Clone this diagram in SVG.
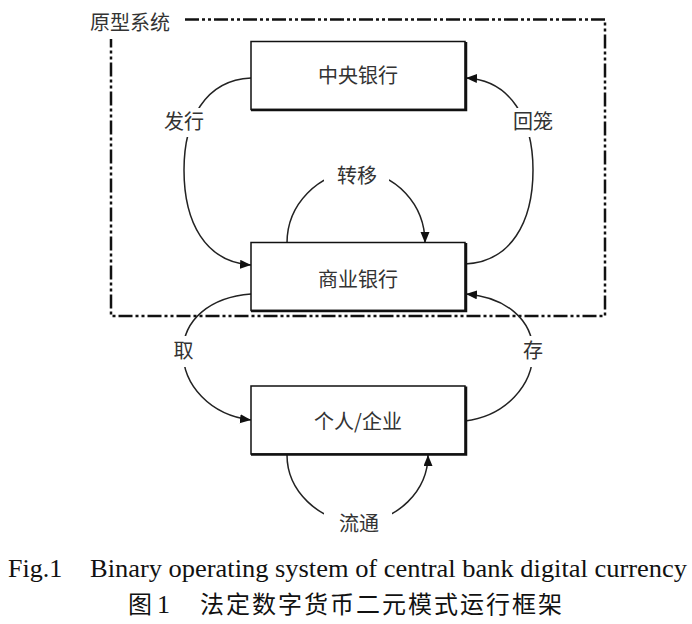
<svg xmlns="http://www.w3.org/2000/svg" width="692" height="624" viewBox="0 0 692 624">
<style>
.box{fill:#fff;stroke:#111;stroke-width:1.5}
.sh{fill:none;stroke:#111;stroke-width:2.5}
.lbl{font-family:"Noto Sans CJK SC","Noto Sans",sans-serif;font-size:20px;fill:#333;text-anchor:middle}
.edge{fill:none;stroke:#222;stroke-width:1.5;marker-end:url(#ah)}
.gap{fill:#fff}
.frame{fill:none;stroke:#111;stroke-width:2.5;stroke-dasharray:14 3 3 3 3 3}
.en{font-family:"Liberation Serif","Times New Roman",serif;font-size:26px;fill:#111}
.zh{font-family:"Noto Sans CJK SC",sans-serif;font-size:24px;fill:#111}
</style>
<defs>
<marker id="ah" markerUnits="userSpaceOnUse" markerWidth="12" markerHeight="10" refX="11" refY="4.5" orient="auto">
<path d="M0,0 L11,4.5 L0,9 z" fill="#111"/>
</marker>
</defs>
<rect width="692" height="624" fill="#fff"/>
<g id="prototype-frame">
<path class="frame" d="M185,19.5 H605 V316 H111 V39"/>
<text class="lbl" x="130" y="30">原型系统</text>
</g>
<g id="connectors">
<path id="e-issue" class="edge" d="M251,78 C205,80 184,120 184,170 C184,222 205,262 251,265"/>
<path id="e-return" class="edge" d="M465,264 C511,262 533,222 533,170 C533,120 511,80 466,78"/>
<path id="e-transfer" class="edge" d="M287,243 C287,205 318,172 357,172 C396,172 425,205 425,243"/>
<path id="e-withdraw" class="edge" d="M251,294 C210,297 183,320 183,352 C183,385 210,415 251,420"/>
<path id="e-deposit" class="edge" d="M465,421 C506,416 533,385 533,352 C533,320 506,297 466,294"/>
<path id="e-circulate" class="edge" d="M287,455 C287,490 318,522 358,522 C398,522 428,490 428,455"/>
</g>
<g id="edge-labels">
<rect class="gap" x="160" y="108" width="48" height="29"/>
<text class="lbl" x="184" y="129">发行</text>
<rect class="gap" x="509" y="108" width="48" height="29"/>
<text class="lbl" x="533" y="129">回笼</text>
<rect class="gap" x="324" y="160" width="65" height="30"/>
<text class="lbl" x="357" y="183">转移</text>
<rect class="gap" x="168" y="336" width="31" height="31"/>
<text class="lbl" x="183.5" y="358">取</text>
<rect class="gap" x="518" y="336" width="31" height="31"/>
<text class="lbl" x="533" y="358">存</text>
<rect class="gap" x="324" y="508" width="68" height="30"/>
<text class="lbl" x="359" y="531">流通</text>
</g>
<g id="central-bank">
<rect class="box" x="251" y="41.5" width="214" height="68"/>
<polyline class="sh" points="251,110 466,110 466,42"/>
<text class="lbl" x="358" y="83">中央银行</text>
</g>
<g id="commercial-bank">
<rect class="box" x="251" y="242.5" width="214" height="68"/>
<polyline class="sh" points="251,311 466,311 466,243"/>
<text class="lbl" x="358" y="287">商业银行</text>
</g>
<g id="individual-enterprise">
<rect class="box" x="251" y="386" width="214" height="68"/>
<polyline class="sh" points="251,454.5 466,454.5 466,386.5"/>
<text class="lbl" x="358" y="429">个人/企业</text>
</g>
<g id="caption">
<text class="en" x="8" y="577">Fig.1</text>
<text class="en" x="90" y="577" textLength="597" lengthAdjust="spacingAndGlyphs">Binary operating system of central bank digital currency</text>
<text class="zh" x="128" y="613">图</text>
<text class="en" x="157" y="613">1</text>
<text class="zh" x="200" y="613" textLength="362" lengthAdjust="spacing">法定数字货币二元模式运行框架</text>
</g>
</svg>
